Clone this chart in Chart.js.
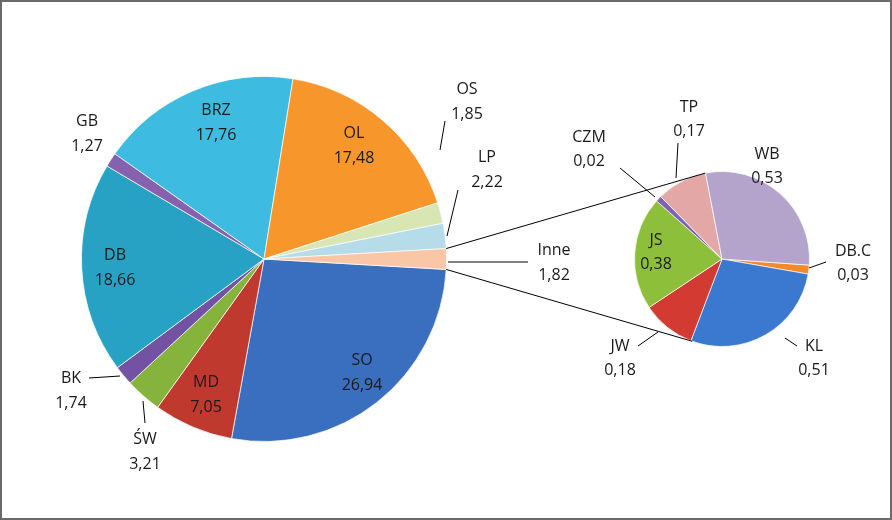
<!DOCTYPE html>
<html><head><meta charset="utf-8">
<script src="https://cdn.jsdelivr.net/npm/chart.js@4/dist/chart.umd.min.js"></script>
<style>
body{margin:0;background:#fff;}
#wrap{position:relative;width:892px;height:520px;box-sizing:border-box;border:2px solid #6a6a6a;background:#fff;overflow:hidden}
.c{position:absolute}
</style></head><body>
<div id="wrap">
<div class="c" style="left:79px;top:74px;width:366px;height:366px"><canvas id="main"></canvas></div>
<div class="c" style="left:632px;top:169px;width:176px;height:176px"><canvas id="sub"></canvas></div>
<canvas id="ov" class="c" width="892" height="520" style="left:-2px;top:-2px;pointer-events:none"></canvas>
</div>
<script>
const mainLabels=["SO","MD","ŚW","BK","DB","GB","BRZ","OL","OS","LP","Inne"];
const mainValues=[26.94,7.05,3.21,1.74,18.66,1.27,17.76,17.48,1.85,2.22,1.82];
const mainColors=["#3A6FC0","#C0392F","#86B33B","#7452A3","#27A2C4","#8561B0","#3DBBE0","#F7962B","#D7E6B3","#B5DCE8","#F9C6A6"];
const subLabels=["DB.C","KL","JW","JS","CZM","TP","WB"];
const subValues=[0.03,0.51,0.18,0.38,0.02,0.17,0.53];
const subColors=["#F08A2A","#3B78D0","#D23A32","#8EBF3A","#7F63B0","#E3A7A5","#B4A4CC"];

const fmt=v=>String(v.toFixed(2)).replace('.',',');
const innePct=mainValues[10]/mainValues.reduce((a,b)=>a+b,0);
const rotMain=90+innePct*180;

function opts(rot){return {responsive:true,maintainAspectRatio:false,animation:false,rotation:rot,
 layout:{padding:0},plugins:{legend:{display:false},tooltip:{enabled:false}},
 elements:{arc:{borderColor:"rgba(255,255,255,0.7)",borderWidth:1}}};}

const mc=new Chart(document.getElementById('main'),{type:'pie',data:{labels:mainLabels,datasets:[{data:mainValues,backgroundColor:mainColors}]},options:opts(rotMain)});
const sc=new Chart(document.getElementById('sub'),{type:'pie',data:{labels:subLabels,datasets:[{data:subValues,backgroundColor:subColors}]},options:opts(94)});

// label text positions (page coords)
const mainPos={SO:[362,360],MD:[206,382],"ŚW":[145,439],BK:[71,378],DB:[115,255],GB:[87,121],BRZ:[216,110],OL:[354,133],OS:[467,89],LP:[487,157],Inne:[554,250]};
const subPos={"DB.C":[853,251],KL:[814,346],JW:[620,346],JS:[656,240],CZM:[589,137],TP:[689,107],WB:[767,154]};
const leaders={OS:[[445,121],[440,150]],LP:[[458,190],[447,236]],Inne:[[528,262],[448,262]],BK:[[89,378],[120,376]],"ŚW":[[145,423],[143,401]],
 CZM:[[620,168],[655,197]],TP:[[678,143],[676,178]],"DB.C":[[826,262],[809,268]],KL:[[797,346],[785,338]],JW:[[638,346],[658,332]]};

const ctx=document.getElementById('ov').getContext('2d');
function draw(){
 ctx.clearRect(0,0,892,520);
 ctx.strokeStyle="#000";ctx.lineWidth=1;
 // connectors
 const a=mc.getDatasetMeta(0).data[10];
 const ox=79+2,oy=74+2;
 const r=a.outerRadius;
 const p1=[ox+a.x+r*Math.cos(a.startAngle),oy+a.y+r*Math.sin(a.startAngle)];
 const p2=[ox+a.x+r*Math.cos(a.endAngle),oy+a.y+r*Math.sin(a.endAngle)];
 const s=sc.getDatasetMeta(0).data[0];
 const sx=632+2+s.x, sy=169+2+s.y, sr=s.outerRadius;
 const t1=[sx+sr*Math.cos(-101*Math.PI/180),sy+sr*Math.sin(-101*Math.PI/180)];
 const t2=[sx+sr*Math.cos(110*Math.PI/180),sy+sr*Math.sin(110*Math.PI/180)];
 ctx.beginPath();ctx.moveTo(p1[0],p1[1]);ctx.lineTo(t1[0],t1[1]);ctx.moveTo(p2[0],p2[1]);ctx.lineTo(t2[0],t2[1]);ctx.stroke();
 for(const k in leaders){const l=leaders[k];ctx.beginPath();ctx.moveTo(l[0][0],l[0][1]);ctx.lineTo(l[1][0],l[1][1]);ctx.stroke();}
 ctx.fillStyle="#1a1a1a";ctx.font="16px 'Open Sans', sans-serif";ctx.textAlign="center";ctx.textBaseline="middle";
 mainLabels.forEach((n,i)=>{const p=mainPos[n];ctx.fillText(n,p[0],p[1]);ctx.fillText(fmt(mainValues[i]),p[0],p[1]+25);});
 subLabels.forEach((n,i)=>{const p=subPos[n];ctx.fillText(n,p[0],p[1]);ctx.fillText(fmt(subValues[i]),p[0],p[1]+24);});
}
draw();
</script>
</body></html>
